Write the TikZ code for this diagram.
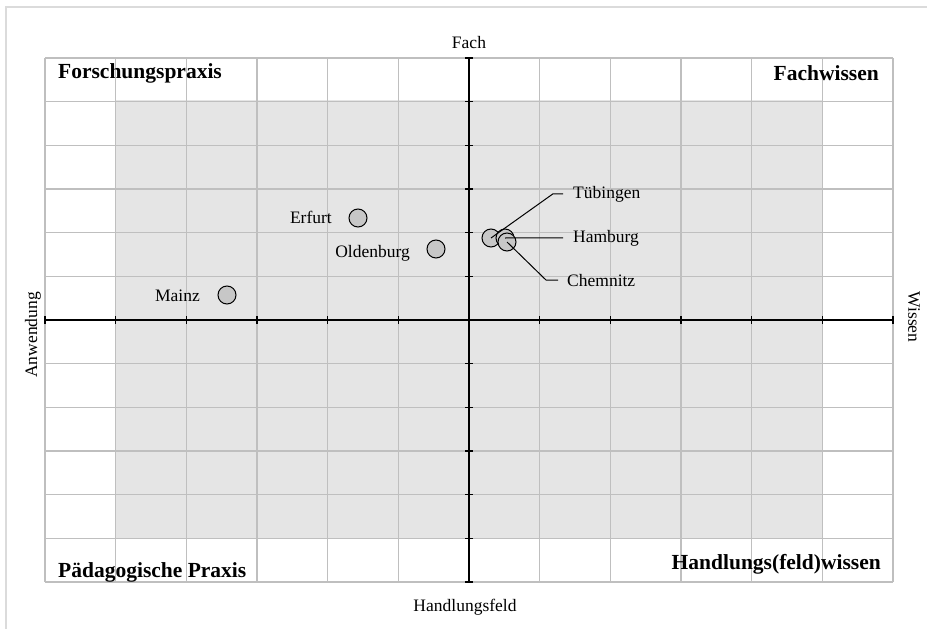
\documentclass[tikz,border=0pt]{standalone}
\usepackage{fontspec}
\setmainfont{Liberation Serif}
\usetikzlibrary{calc}

\tikzset{
    gridline/.style={draw=black!25,line width=1.2pt},
    axisline/.style={draw=black,line width=1.2pt},
    site/.style={draw,circle,fill=black!22,line width=1pt,minimum size=18pt,inner sep=0pt},
    sitetext/.style={inner sep=0pt,font=\fontsize{17.5}{20}\selectfont},
    cornertext/.style={inner sep=0pt,font=\fontsize{21.5}{24}\selectfont\bfseries},
    leader/.style={draw,line width=1pt},
}

\begin{document}
\begin{tikzpicture}[x=1pt,y=-1pt]
    \useasboundingbox (0,0) rectangle (927,629);
    \draw[black!14,line width=1.5pt] (6,7) rectangle (945,645);
    \path[fill=black!10] (116,100) rectangle (822,538);
    \foreach \i in {0,...,12} {
      \draw[gridline] ({45+\i*70.667},58) -- ({45+\i*70.667},582);
      \draw[gridline] (45,{58+\i*43.667}) -- (893,{58+\i*43.667});
      \draw[axisline] ({45+\i*70.667},316) -- ({45+\i*70.667},324);
      \draw[axisline] (465,{58+\i*43.667}) -- (473,{58+\i*43.667});
    }
    \draw[axisline] (45,320) -- (893,320);
    \draw[axisline] (469,58) -- (469,582);

    % axis names
    \node[sitetext,anchor=base] (fach) at (469,48) {Fach};
    \node[sitetext,anchor=base] (feld) at (465,611) {Handlungsfeld};
    \node[sitetext,rotate=90] (anw) at (33,335) {Anwendung};
    \node[sitetext,rotate=-90] (wissen) at (914,317) {Wissen};

    % quadrants
    \node[cornertext,anchor=base west] (forsch) at (58,78) {Forschungspraxis};
    \node[cornertext,anchor=base east] (fachw) at (879,80) {Fachwissen};
    \node[cornertext,anchor=base west] (paed) at (58,577) {Pädagogische Praxis};
    \node[cornertext,anchor=base east] (handw) at (881,569) {Handlungs(feld)wissen};

    % sites
    \node[site] (mainz) at (227,295) {};
    \node[site] (erfurt) at (358,218) {};
    \node[site] (oldenburg) at (436,249) {};
    \node[site] (tuebingen) at (491,238) {};
    \node[site] (hamburg) at (505,238) {};
    \node[site] (chemnitz) at (507,242) {};
    \node[sitetext,anchor=base east] (mainztxt) at (200,301) {Mainz};
    \node[sitetext,anchor=base east] (erfurttxt) at (332,223) {Erfurt};
    \node[sitetext,anchor=base east] (oldenburgtxt) at (410,257) {Oldenburg};
    \node[sitetext,anchor=base west] (tuebingentxt) at (573,198) {Tübingen};
    \node[sitetext,anchor=base west] (hamburgtxt) at (573,242) {Hamburg};
    \node[sitetext,anchor=base west] (chemnitztxt) at (567,286) {Chemnitz};

    \draw[leader] (tuebingen.center) -- ($(tuebingentxt.west)+(-20,0)$) -- ($(tuebingentxt.west)+(-10,0)$);
    \draw[leader] (hamburg.center) -- ($(hamburgtxt.west)+(-10,0)$);
    \draw[leader] (chemnitz.center) -- ($(chemnitztxt.west)+(-21,0)$) -- ($(chemnitztxt.west)+(-9,0)$);
  \end{tikzpicture}
\end{document}
